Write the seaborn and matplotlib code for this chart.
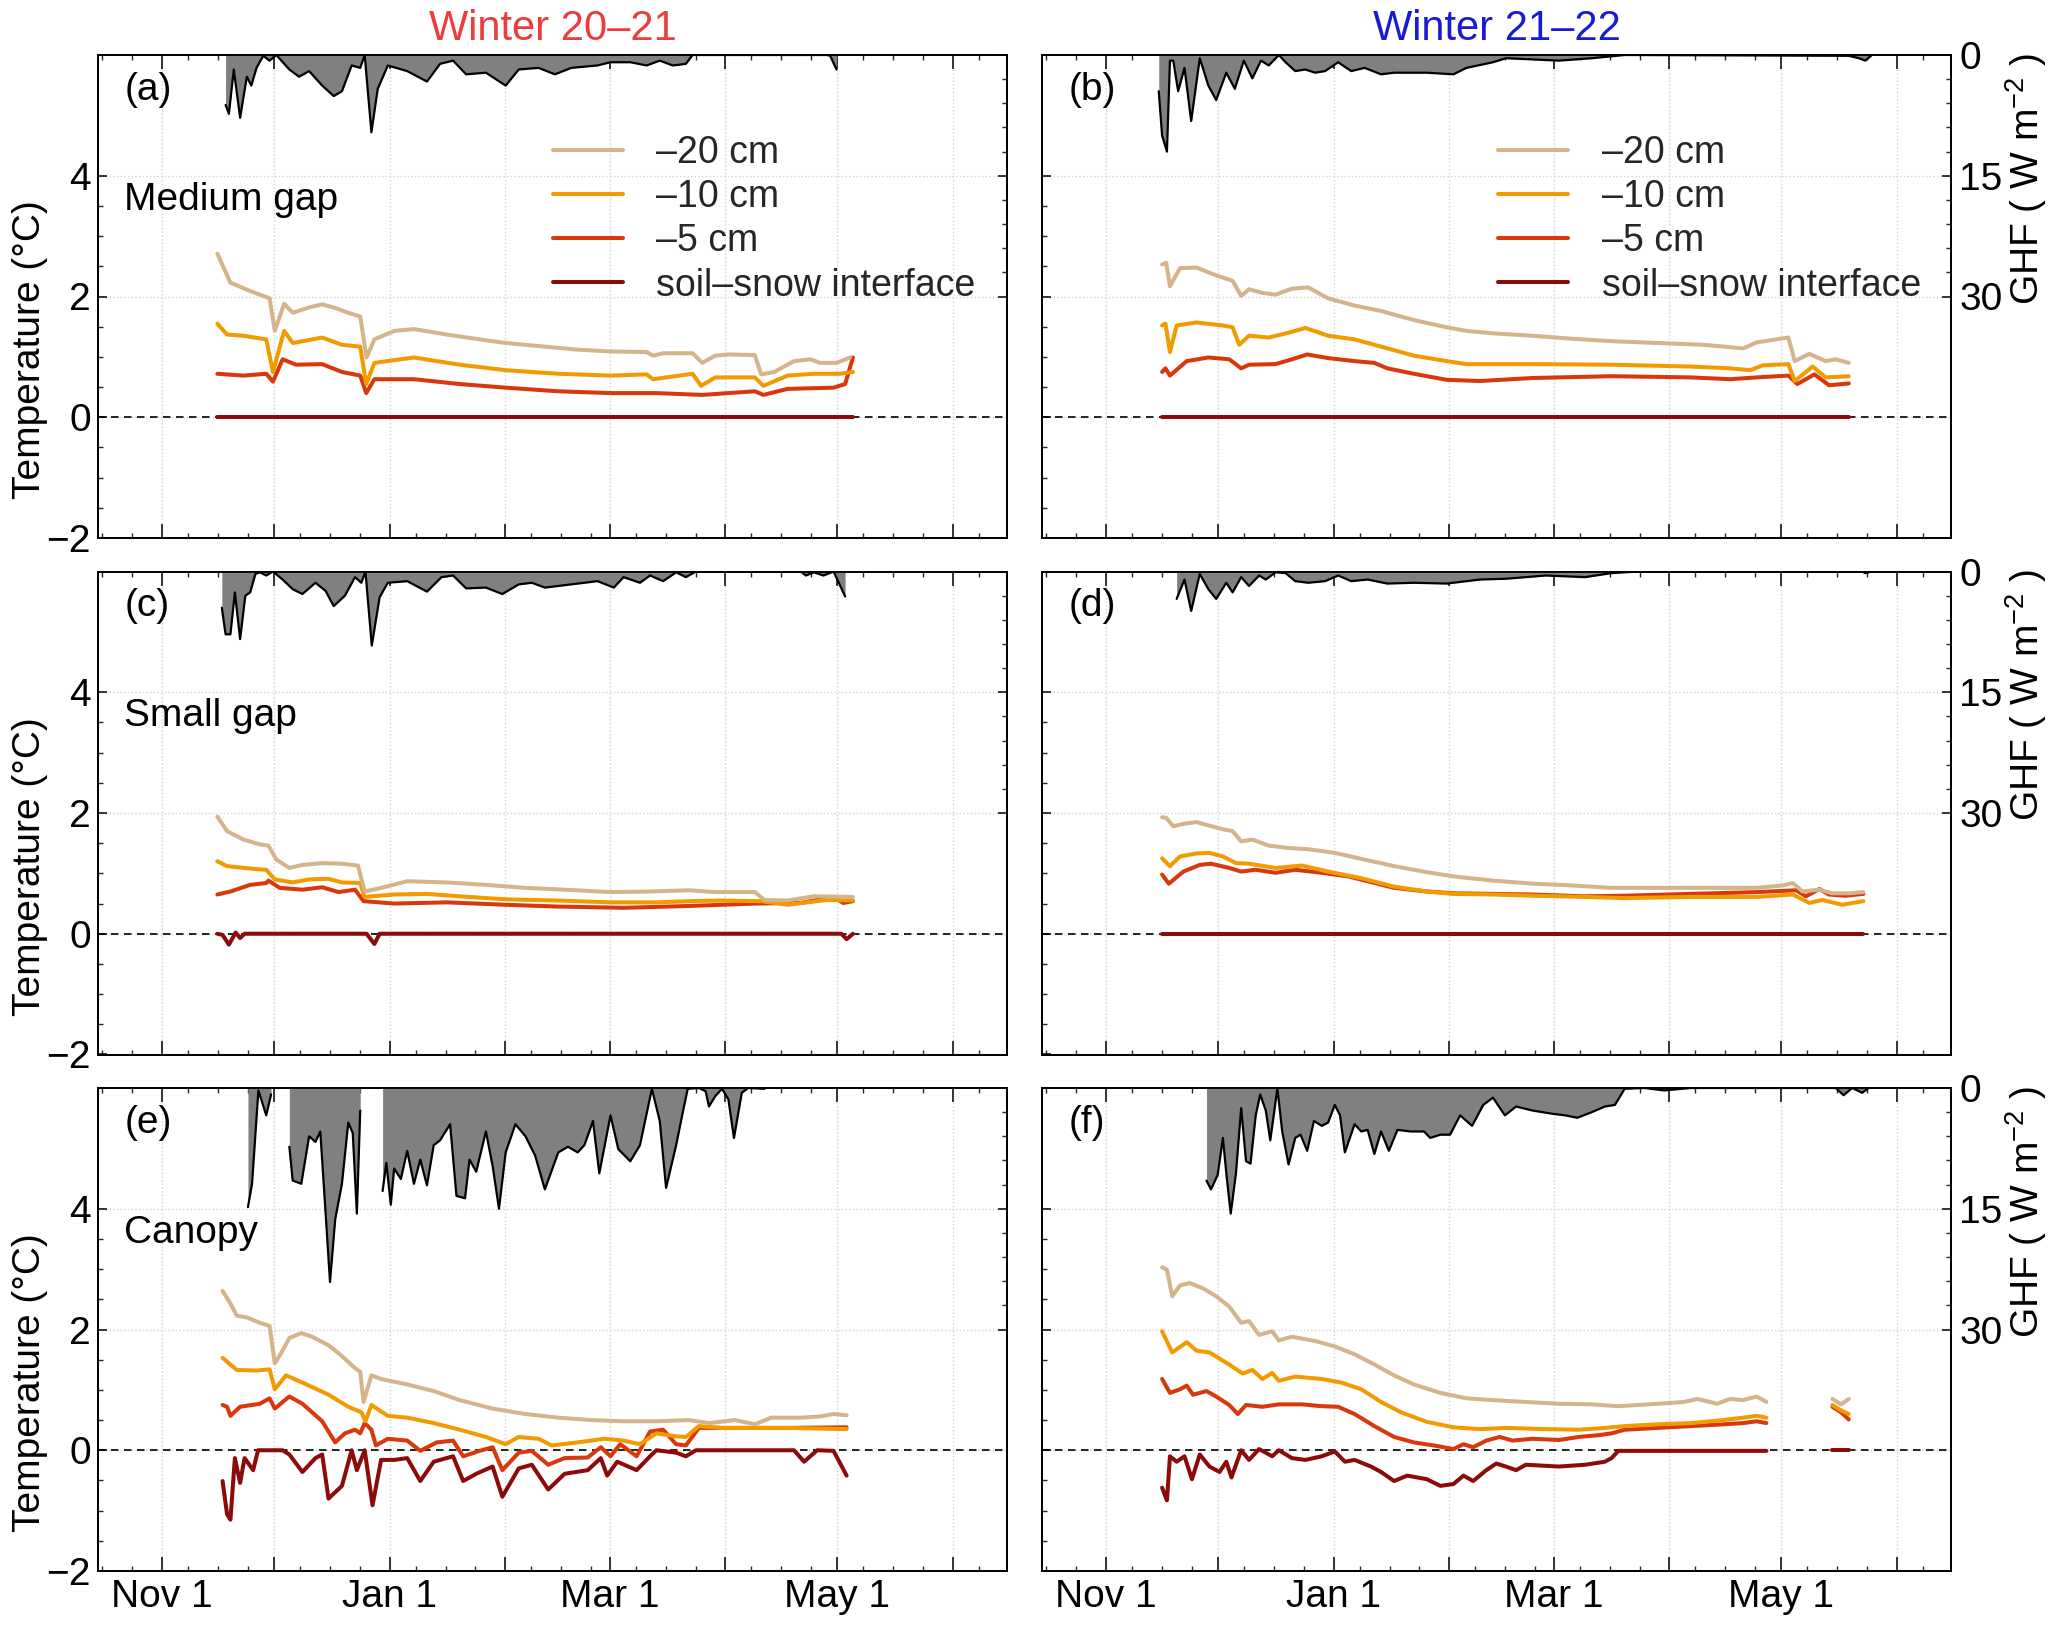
import numpy as np
import pandas as pd
import matplotlib
matplotlib.use("Agg")
import matplotlib.pyplot as plt
import matplotlib.dates as mdates
from matplotlib.lines import Line2D
from matplotlib.ticker import FixedLocator, FuncFormatter, NullFormatter
import seaborn as sns

nan = np.nan

# ---------------- labels / categories ----------------
depth_labels = ["\u201320 cm", "\u201310 cm", "\u20135 cm", "soil\u2013snow interface"]
site_labels = ["Medium gap", "Small gap", "Canopy"]
panel_letters = ["(a)", "(b)", "(c)", "(d)", "(e)", "(f)"]
winter_titles = ["Winter 20\u201321", "Winter 21\u201322"]
season_starts = ["2020-11-01", "2021-11-01"]
labeled_months = ["Nov 1", "Jan 1", "Mar 1", "May 1"]
temp_ticks = [-2, 0, 2, 4]
ghf_ticks = [0, 15, 30]

# ---------------- data: days since Nov 1, values ----------------
# (a) Medium gap, winter 20-21
a_t20_d = [14.8,18.3,23.6,28.8,30.2,32.7,35.0,39.4,42.9,46.4,49.9,53.1,54.8,56.9,62.2,67.5,76.3,85.1,92.1,102.6,111.4,120.2,129.9,131.6,134.3,142.2,144.8,148.3,151.8,158.9,160.6,164.1,169.4,173.8,176.4,180.8,184.4]
a_t20_v = [2.71,2.23,2.09,1.97,1.43,1.88,1.73,1.82,1.87,1.81,1.73,1.67,0.99,1.29,1.43,1.46,1.37,1.29,1.23,1.17,1.12,1.09,1.08,1.02,1.06,1.06,0.90,1.02,1.04,1.03,0.71,0.75,0.93,0.96,0.90,0.90,0.99]
a_t10_d = [14.8,17.4,21.8,27.9,29.7,32.7,35.0,42.9,48.2,53.1,54.7,56.9,67.5,79.8,92.1,106.2,120.2,129.9,131.6,142.2,144.5,148.3,158.9,161.2,167.7,174.7,181.7,185.2]
a_t10_v = [1.55,1.37,1.35,1.29,0.75,1.43,1.23,1.32,1.20,1.17,0.55,0.90,0.99,0.87,0.78,0.72,0.69,0.71,0.63,0.72,0.52,0.66,0.66,0.52,0.69,0.72,0.72,0.75]
a_t5_d = [14.8,21.8,27.9,29.7,32.3,35.9,42.9,48.2,53.1,54.7,56.9,67.5,79.8,92.1,106.2,120.2,132.5,144.8,158.9,161.2,167.7,180.0,183.1,185.2]
a_t5_v = [0.72,0.69,0.72,0.59,0.96,0.87,0.88,0.75,0.69,0.40,0.63,0.63,0.55,0.49,0.43,0.40,0.40,0.37,0.43,0.37,0.47,0.49,0.55,0.99]
a_int_d = [14.8,185.2]
a_int_v = [0.0,0.0]
a_ghf_d = [17.0,17.9,19.2,20.9,22.7,23.9,25.3,27.1,28.8,30.6,34.1,36.7,39.4,42.9,46.0,48.2,50.8,53.1,54.3,56.1,57.8,60.5,65.7,71.0,74.5,78.0,81.5,86.8,92.1,95.6,100.9,105.3,109.7,116.7,120.2,125.5,129.9,133.4,136.9,140.4,142.2,178.2,179.1,180.8]
a_ghf_v = [6.2,7.3,1.8,7.8,2.7,3.8,1.6,0.1,0.7,0.0,1.8,2.7,2.0,3.8,5.1,4.5,1.3,1.6,0.0,9.6,4.2,1.3,2.0,3.3,1.1,0.7,2.4,2.2,3.8,1.8,1.6,2.4,1.6,1.3,0.9,0.9,1.3,0.7,1.3,1.1,0.0,0.0,0.1,1.8]

# (b) Medium gap, winter 21-22
b_t20_d = [15.0,16.1,17.1,19.8,24.2,29.5,33.9,36.2,38.3,41.9,45.4,49.8,54.2,59.5,66.6,73.7,82.5,91.3,96.6,103.7,114.3,124.9,135.5,147.9,160.2,167.3,170.8,174.4,179.7,182.9,184.6,188.5,192.9,195.6,199.1]
b_t20_v = [2.53,2.56,2.17,2.47,2.48,2.35,2.26,2.01,2.12,2.06,2.03,2.13,2.15,1.97,1.85,1.76,1.61,1.49,1.43,1.39,1.35,1.30,1.26,1.23,1.20,1.16,1.14,1.24,1.29,1.32,0.93,1.05,0.93,0.96,0.90]
b_t10_d = [15.0,15.9,17.1,18.9,24.2,31.3,33.9,35.7,38.3,43.6,48.9,53.4,59.5,66.6,73.7,82.5,91.3,96.6,114.3,135.5,156.7,167.3,172.6,176.1,182.9,184.6,189.4,192.9,199.1]
b_t10_v = [1.52,1.55,1.08,1.52,1.57,1.52,1.49,1.20,1.35,1.32,1.40,1.48,1.35,1.29,1.17,1.02,0.93,0.88,0.88,0.87,0.84,0.81,0.78,0.86,0.88,0.60,0.84,0.66,0.68]
b_t5_d = [15.0,15.9,17.1,21.6,27.4,33.0,36.2,38.3,45.4,49.8,53.9,59.5,66.6,71.9,75.4,82.5,91.3,100.2,114.3,135.5,156.7,167.3,174.4,182.9,185.3,189.9,193.8,199.1]
b_t5_v = [0.75,0.81,0.69,0.93,0.99,0.96,0.81,0.87,0.88,0.96,1.04,0.98,0.93,0.90,0.81,0.72,0.62,0.60,0.65,0.68,0.66,0.63,0.66,0.69,0.55,0.71,0.53,0.56]
b_int_d = [15.0,199.1]
b_int_v = [0.0,0.0]
b_ghf_d = [14.1,15.0,16.3,17.1,18.0,19.3,21.0,22.8,25.1,27.4,29.5,32.2,34.5,36.9,39.2,41.5,43.6,46.3,48.1,50.7,53.4,56.0,58.7,62.2,65.7,69.3,73.7,77.2,86.0,93.1,96.6,103.7,107.2,121.4,130.2,139.0,199.1,201.8,203.5,205.3]
b_ghf_v = [4.5,10.0,12.0,0.7,0.7,4.5,1.6,8.2,0.4,3.8,5.6,2.2,4.2,0.7,2.9,0.7,1.3,0.0,0.9,2.0,1.8,2.2,2.0,0.9,2.0,1.6,2.4,2.2,2.2,2.4,1.6,0.9,0.4,0.7,0.4,0.0,0.1,0.4,0.7,0.0]

# (c) Small gap, winter 20-21
c_t20_d = [14.8,17.4,21.8,26.2,28.5,30.6,34.1,37.6,42.9,48.2,52.5,54.3,58.7,65.7,76.3,86.8,97.4,107.9,120.2,130.8,141.3,148.3,158.9,161.5,167.7,174.7,185.2]
c_t20_v = [1.94,1.70,1.56,1.48,1.46,1.23,1.09,1.14,1.17,1.16,1.13,0.70,0.76,0.87,0.85,0.81,0.76,0.73,0.69,0.70,0.72,0.69,0.69,0.56,0.55,0.62,0.61]
c_t10_d = [14.8,17.4,25.3,27.9,30.2,35.0,39.4,44.6,48.2,53.1,54.3,62.2,71.0,79.8,92.1,106.2,120.2,132.5,141.3,150.1,160.6,167.7,178.2,185.2]
c_t10_v = [1.20,1.12,1.07,1.06,0.90,0.85,0.90,0.91,0.85,0.84,0.61,0.65,0.66,0.62,0.57,0.55,0.52,0.52,0.54,0.55,0.54,0.48,0.56,0.55]
c_t5_d = [14.8,18.3,23.6,27.9,28.5,31.5,37.6,42.9,47.3,51.7,54.0,62.2,76.3,92.1,106.2,123.7,141.3,158.9,171.2,180.0,182.6,185.2]
c_t5_v = [0.65,0.70,0.81,0.84,0.88,0.76,0.73,0.77,0.69,0.73,0.54,0.50,0.52,0.48,0.45,0.43,0.46,0.50,0.51,0.61,0.51,0.54]
c_int_d = [14.8,16.2,17.9,19.7,20.9,22.1,54.8,56.9,58.3,182.1,183.5,185.2]
c_int_v = [0.0,-0.02,-0.18,0.02,-0.07,0.0,0.0,-0.17,0.0,0.0,-0.09,0.0]
c_ghf_d = [16.0,17.0,18.3,19.5,20.9,22.3,23.6,25.0,26.2,27.9,29.7,32.3,35.0,37.6,41.1,43.8,46.0,49.0,51.7,53.4,54.5,56.2,58.3,60.5,65.7,71.0,74.9,78.0,81.5,86.8,91.2,95.6,99.1,102.6,109.7,116.7,121.1,123.7,128.1,130.8,134.3,137.8,140.4,143.1,171.2,172.6,174.7,177.3,180.0,183.1]
c_ghf_v = [4.5,7.8,7.8,2.6,8.4,3.0,2.6,0.3,0.1,0.5,0.0,1.0,2.2,2.8,1.4,2.4,4.3,3.0,0.7,1.4,0.0,9.2,3.2,1.4,1.2,2.5,0.7,0.5,2.1,2.0,2.8,1.6,1.4,2.0,1.6,1.2,2.0,0.7,1.4,0.5,1.2,0.1,0.7,0.0,0.0,0.5,0.1,0.5,0.0,3.1]

# (d) Small gap, winter 21-22
d_t20_d = [15.0,16.1,18.0,20.7,24.2,27.7,31.3,33.9,36.2,39.2,43.6,48.9,54.2,61.3,68.4,77.2,86.0,93.1,103.7,114.3,124.9,135.5,149.6,160.2,174.4,181.4,184.1,186.7,191.2,194.7,199.1,203.0]
d_t20_v = [1.93,1.92,1.78,1.82,1.85,1.79,1.73,1.70,1.53,1.56,1.46,1.42,1.40,1.34,1.24,1.12,1.02,0.95,0.88,0.83,0.80,0.76,0.76,0.76,0.76,0.80,0.84,0.70,0.73,0.67,0.67,0.69]
d_t10_d = [15.0,17.1,19.8,24.2,27.7,31.3,34.8,38.3,45.4,52.5,59.5,68.4,77.2,86.0,93.1,103.7,114.3,128.4,139.0,156.7,174.4,184.1,188.5,192.0,197.3,203.0]
d_t10_v = [1.25,1.12,1.28,1.33,1.34,1.28,1.17,1.16,1.09,1.13,1.03,0.92,0.78,0.70,0.66,0.65,0.63,0.61,0.59,0.61,0.61,0.65,0.51,0.56,0.48,0.54]
d_t5_d = [15.0,16.8,20.7,25.1,28.1,33.0,36.2,40.1,45.4,50.7,57.8,64.9,70.1,77.2,86.0,93.1,103.7,114.3,128.4,139.0,156.7,174.4,185.0,187.6,191.2,193.8,198.2,203.0]
d_t5_v = [0.98,0.83,1.03,1.14,1.16,1.09,1.03,1.06,1.01,1.06,1.01,0.95,0.87,0.76,0.70,0.67,0.66,0.65,0.62,0.63,0.66,0.69,0.72,0.62,0.74,0.65,0.63,0.66]
d_int_d = [15.0,203.0]
d_int_v = [0.0,0.0]
d_ghf_d = [18.9,21.0,22.8,25.1,27.4,29.5,32.2,33.9,36.2,38.3,41.0,42.8,45.4,48.1,50.7,54.2,58.7,62.2,65.7,70.1,75.4,82.5,91.3,100.2,107.2,117.8,128.4,135.5,142.6,202.7,203.5,205.3]
d_ghf_v = [3.4,1.0,4.9,0.3,2.2,3.4,1.4,2.6,0.7,1.8,0.5,1.0,0.1,0.2,1.2,1.4,1.2,0.5,1.2,1.0,1.5,1.4,1.5,1.0,0.9,0.5,0.7,0.2,0.0,0.0,0.2,0.0]

# (e) Canopy, winter 20-21
e_t20_d = [16.2,18.3,20.0,22.7,26.2,28.8,30.2,32.0,34.1,37.3,40.2,44.6,48.2,51.7,53.1,54.0,56.1,58.7,65.7,72.8,79.8,88.6,97.4,106.2,114.9,123.7,132.5,141.3,146.6,153.6,158.9,163.3,171.2,176.4,180.0,183.5]
e_t20_v = [2.64,2.43,2.23,2.20,2.11,2.06,1.44,1.62,1.86,1.94,1.88,1.74,1.56,1.36,1.30,0.80,1.24,1.18,1.09,0.98,0.83,0.69,0.60,0.54,0.50,0.48,0.48,0.50,0.45,0.50,0.43,0.54,0.54,0.56,0.60,0.58]
e_t10_d = [16.2,20.0,25.3,28.8,30.2,33.2,37.6,44.6,49.9,53.4,54.5,56.1,60.5,65.7,72.8,79.8,86.8,92.1,95.6,100.9,104.4,111.4,118.5,123.7,128.1,132.5,137.8,140.4,143.9,150.1,167.7,183.5]
e_t10_v = [1.53,1.33,1.32,1.34,1.01,1.24,1.12,0.92,0.72,0.63,0.48,0.75,0.57,0.54,0.45,0.34,0.22,0.10,0.22,0.19,0.08,0.13,0.19,0.16,0.10,0.28,0.23,0.22,0.40,0.37,0.37,0.35]
e_t5_d = [16.2,17.4,18.3,20.9,26.2,28.8,30.2,34.1,37.6,42.9,46.4,49.0,51.7,53.1,54.3,56.1,57.3,60.5,65.7,69.2,73.6,78.0,80.7,85.1,88.6,91.2,95.6,99.1,103.5,107.9,114.1,117.6,120.2,122.8,127.2,130.8,134.3,137.8,140.4,143.9,150.1,167.7,183.5]
e_t5_v = [0.75,0.72,0.57,0.72,0.77,0.86,0.69,0.89,0.77,0.48,0.13,0.28,0.34,0.28,0.45,0.34,0.08,0.19,0.16,-0.01,0.13,0.16,-0.10,-0.01,0.05,-0.33,-0.04,-0.01,-0.24,-0.13,-0.12,0.05,-0.10,0.10,-0.10,0.31,0.34,0.10,0.08,0.37,0.37,0.37,0.38]
e_int_d = [16.2,17.4,18.3,19.5,20.9,22.1,24.4,25.7,32.3,34.1,37.6,41.1,42.9,44.6,48.2,50.8,52.2,54.3,56.4,58.7,62.2,65.7,69.2,72.8,78.0,80.7,84.2,88.6,91.2,95.6,99.1,103.5,107.9,114.1,117.6,119.3,122.0,127.2,130.8,132.5,137.8,140.4,143.1,169.4,172.1,175.6,180.0,183.5]
e_int_v = [-0.51,-1.06,-1.15,-0.13,-0.54,-0.13,-0.33,0.0,0.0,-0.07,-0.36,-0.13,-0.07,-0.80,-0.59,0.0,-0.33,0.0,-0.91,-0.16,-0.16,-0.13,-0.51,-0.19,-0.10,-0.51,-0.39,-0.27,-0.77,-0.30,-0.24,-0.65,-0.39,-0.33,-0.13,-0.42,-0.19,-0.33,-0.10,0.0,-0.04,-0.10,0.0,0.0,-0.19,0.0,-0.01,-0.42]
e_ghf_d = [23.0,24.1,25.8,27.9,29.2,31.0,34.1,35.0,37.3,39.4,41.1,42.4,43.8,45.0,46.4,48.2,49.9,51.1,52.2,53.1,56.0,59.1,60.1,61.3,62.2,64.0,65.7,67.5,69.2,71.0,72.8,74.5,77.2,78.9,81.2,82.4,84.2,86.8,88.6,90.3,92.1,94.7,97.4,100.0,102.6,106.2,108.8,111.4,113.2,115.5,117.2,120.2,122.3,125.5,128.1,131.3,133.4,135.1,137.8,139.5,140.9,143.9,145.7,146.6,148.3,150.1,151.8,153.3,155.4,157.1,161.5]
e_ghf_v = [14.8,11.9,0.3,3.4,0.8,nan,7.3,11.5,11.9,6.0,6.7,5.4,15.4,24.1,16.3,11.9,4.3,5.6,15.6,2.8,nan,12.8,9.3,14.5,10.0,11.3,7.8,11.9,8.9,12.1,7.1,6.5,4.5,13.4,13.7,8.9,10.4,5.4,9.7,15.0,8.0,4.5,6.0,8.4,12.6,8.0,7.3,8.0,7.1,4.1,10.6,3.4,7.6,9.1,7.1,0.1,4.1,12.4,7.1,3.2,0.1,0.0,0.4,2.3,1.0,0.1,1.4,6.2,0.6,0.0,0.1]

# (f) Canopy, winter 21-22
f_t20_d = [15.0,16.3,17.7,19.8,22.4,26.0,29.5,33.0,36.2,38.3,41.0,44.5,46.3,49.8,56.0,61.3,66.6,71.9,77.2,82.5,89.6,96.6,103.7,112.5,121.4,130.2,137.3,147.9,154.9,158.5,163.8,167.3,170.8,174.4,177.0,186.0,194.7,197.0,199.1]
f_t20_v = [3.03,2.99,2.55,2.73,2.77,2.68,2.55,2.38,2.11,2.14,1.91,1.97,1.82,1.88,1.81,1.72,1.59,1.42,1.24,1.09,0.95,0.86,0.83,0.80,0.77,0.76,0.73,0.77,0.80,0.85,0.77,0.85,0.83,0.89,0.80,nan,0.85,0.76,0.85]
f_t10_d = [15.0,17.7,21.6,24.2,27.7,33.0,36.6,39.2,41.9,44.5,46.3,50.7,57.8,63.1,68.4,73.7,79.0,86.0,93.1,100.2,107.2,117.8,126.7,133.7,139.0,147.9,156.7,165.5,170.8,174.4,177.0,186.0,194.7,197.0,199.1]
f_t10_v = [1.97,1.62,1.79,1.65,1.62,1.42,1.27,1.33,1.18,1.28,1.15,1.22,1.18,1.12,1.01,0.80,0.63,0.47,0.38,0.35,0.37,0.35,0.34,0.37,0.40,0.43,0.45,0.50,0.54,0.57,0.54,nan,0.75,0.66,0.60]
f_t5_d = [15.0,17.1,19.8,21.6,23.3,26.9,29.5,33.0,35.3,37.5,41.9,46.3,52.5,57.8,62.2,66.6,71.9,77.2,82.5,87.8,93.1,95.8,98.4,101.9,105.5,109.0,114.3,121.4,126.7,132.0,135.5,139.0,147.9,156.7,165.5,170.8,174.4,177.0,186.0,194.7,197.0,199.1]
f_t5_v = [1.18,0.95,1.01,1.07,0.92,0.98,0.89,0.75,0.60,0.75,0.72,0.76,0.76,0.73,0.72,0.60,0.40,0.22,0.13,0.08,0.02,0.10,0.05,0.16,0.22,0.16,0.19,0.17,0.22,0.25,0.28,0.34,0.37,0.40,0.43,0.45,0.48,0.45,nan,0.72,0.63,0.51]
f_int_d = [15.0,16.3,17.1,18.9,21.0,23.0,25.1,27.7,30.4,32.2,33.6,36.2,38.3,41.0,44.5,46.3,49.8,53.4,57.8,61.3,64.0,66.6,71.0,73.7,77.2,80.7,86.0,89.6,93.1,95.8,98.4,101.9,104.6,107.2,109.9,112.5,121.4,128.4,133.7,135.5,137.3,177.0,186.0,194.7,199.1]
f_int_v = [-0.62,-0.83,-0.10,-0.19,-0.10,-0.48,-0.07,-0.27,-0.36,-0.19,-0.45,0.0,-0.16,0.02,-0.10,0.0,-0.13,-0.16,-0.10,-0.02,-0.19,-0.16,-0.27,-0.36,-0.51,-0.42,-0.48,-0.59,-0.56,-0.42,-0.51,-0.33,-0.22,-0.27,-0.33,-0.24,-0.27,-0.24,-0.19,-0.13,-0.01,-0.01,nan,0.0,0.0]
f_ghf_d = [26.9,28.1,29.9,31.3,32.3,33.4,34.8,36.2,37.5,38.7,40.1,41.3,42.8,44.0,45.1,45.9,47.2,48.9,50.7,52.1,53.9,55.7,57.8,59.5,61.3,62.7,64.0,66.6,68.4,70.1,71.9,73.7,75.8,78.1,81.6,85.2,86.9,89.6,92.2,94.9,98.1,101.1,103.7,106.9,109.9,114.3,119.6,123.1,126.3,130.2,133.7,136.4,139.0,144.3,149.6,156.7,177.0,195.6,197.7,200.0,202.7,204.4]
f_ghf_v = [11.5,12.6,10.8,6.2,11.0,15.6,10.6,2.5,9.1,9.4,3.4,0.8,2.8,6.5,2.8,0.0,5.4,9.5,6.2,5.8,7.8,4.1,4.7,4.3,2.1,3.4,8.0,4.5,5.4,5.2,8.2,5.4,7.8,5.2,5.4,5.4,6.2,5.8,5.8,3.4,4.7,2.1,1.2,3.4,2.3,2.8,3.2,3.4,3.7,3.0,2.3,2.1,0.1,0.0,0.3,0.0,0.0,0.0,0.9,0.0,0.6,0.0]

# ---------------- styling ----------------
sns.set_theme(style="white")
plt.rcParams["font.family"] = ["Liberation Sans", "DejaVu Sans"]
plt.rcParams["mathtext.fontset"] = "custom"
plt.rcParams["mathtext.rm"] = "Liberation Sans"
plt.rcParams["mathtext.it"] = "Liberation Sans:italic"
plt.rcParams["mathtext.default"] = "regular"
plt.rcParams["axes.unicode_minus"] = True

depth_colors = ["#D5B48C", "#F29B00", "#D9380C", "#8B0A0A"]
title_colors = ["#EE3B3B", "#1A1AD6"]
TICK_FS = 28
TEXT_FS = 28
LAB_FS = 28
LEG_FS = 27
T_LW = 2.9

panels = [
    dict(letter=0, col=0, row=0, t=[(a_t20_d, a_t20_v), (a_t10_d, a_t10_v), (a_t5_d, a_t5_v), (a_int_d, a_int_v)], g=(a_ghf_d, a_ghf_v)),
    dict(letter=1, col=1, row=0, t=[(b_t20_d, b_t20_v), (b_t10_d, b_t10_v), (b_t5_d, b_t5_v), (b_int_d, b_int_v)], g=(b_ghf_d, b_ghf_v)),
    dict(letter=2, col=0, row=1, t=[(c_t20_d, c_t20_v), (c_t10_d, c_t10_v), (c_t5_d, c_t5_v), (c_int_d, c_int_v)], g=(c_ghf_d, c_ghf_v)),
    dict(letter=3, col=1, row=1, t=[(d_t20_d, d_t20_v), (d_t10_d, d_t10_v), (d_t5_d, d_t5_v), (d_int_d, d_int_v)], g=(d_ghf_d, d_ghf_v)),
    dict(letter=4, col=0, row=2, t=[(e_t20_d, e_t20_v), (e_t10_d, e_t10_v), (e_t5_d, e_t5_v), (e_int_d, e_int_v)], g=(e_ghf_d, e_ghf_v)),
    dict(letter=5, col=1, row=2, t=[(f_t20_d, f_t20_v), (f_t10_d, f_t10_v), (f_t5_d, f_t5_v), (f_int_d, f_int_v)], g=(f_ghf_d, f_ghf_v)),
]

W, H = 2067, 1629
col_left = [98 / W, 1042 / W]
ax_w = 909 / W
row_bottom = [1 - 538 / H, 1 - 1054.5 / H, 1 - 1571 / H]
ax_h = 483 / H


def to_dates(start, days):
    return pd.Timestamp(start) + pd.to_timedelta(np.asarray(days, float), unit="D")


def segments(days, vals):
    d = np.asarray(days, float)
    v = np.asarray(vals, float)
    out, cur = [], []
    for i in range(len(v)):
        if np.isnan(v[i]):
            if cur:
                out.append(cur)
            cur = []
        else:
            cur.append(i)
    if cur:
        out.append(cur)
    return [(d[idx], v[idx]) for idx in out]


def month_fmt(x, pos):
    dt = mdates.num2date(x)
    s = dt.strftime("%b") + " 1"
    return s if (s in labeled_months and dt.day == 1) else ""


fig = plt.figure(figsize=(W / 100, H / 100), dpi=100)

for p in panels:
    col, row = p["col"], p["row"]
    start = season_starts[col]
    ax = fig.add_axes([col_left[col], row_bottom[row], ax_w, ax_h])
    ax2 = ax.twinx()

    # zero dashed line
    ax.axhline(0, color="black", lw=1.2, dashes=(4.5, 3.3), zorder=1)

    # temperatures
    for k, (dd, vv) in enumerate(p["t"]):
        for sd, sv in segments(dd, vv):
            sns.lineplot(x=to_dates(start, sd), y=sv, ax=ax, color=depth_colors[k],
                         linewidth=T_LW, estimator=None, sort=False, legend=False,
                         solid_capstyle="round", zorder=3 + (3 - k))

    # GHF
    gd, gv = p["g"]
    for sd, sv in segments(gd, gv):
        dts = to_dates(start, sd)
        ax2.fill_between(dts, 0, sv, color="#808080", lw=0, zorder=2)
        sns.lineplot(x=dts, y=sv, ax=ax2, color="black", linewidth=1.6,
                     estimator=None, sort=False, legend=False, zorder=3)

    # axes limits
    ax.set_xlim(pd.Timestamp(start) - pd.Timedelta(days=17.2), pd.Timestamp(start) + pd.Timedelta(days=226.5))
    ax.set_ylim(-2, 6)
    ax2.set_ylim(60, 0)

    # x ticks
    ax.xaxis.set_major_locator(mdates.MonthLocator(bymonthday=1))
    ax.xaxis.set_minor_locator(mdates.DayLocator(bymonthday=[8, 16, 24]))
    if row == 2:
        ax.xaxis.set_major_formatter(FuncFormatter(month_fmt))
    else:
        ax.xaxis.set_major_formatter(NullFormatter())
    ax.xaxis.set_minor_formatter(NullFormatter())

    # y ticks (temperature)
    ax.yaxis.set_major_locator(FixedLocator(temp_ticks))
    ax.yaxis.set_minor_locator(FixedLocator([-1.5, -1, -0.5, 0.5, 1, 1.5, 2.5, 3, 3.5]))
    if col == 1:
        ax.yaxis.set_major_formatter(NullFormatter())

    # y ticks (GHF)
    ax2.yaxis.set_major_locator(FixedLocator(ghf_ticks))
    ax2.yaxis.set_minor_locator(FixedLocator([3, 6, 9, 12, 18, 21, 24, 27]))
    ax2.yaxis.set_minor_formatter(NullFormatter())
    if col == 0:
        ax2.yaxis.set_major_formatter(NullFormatter())

    ax.tick_params(axis="x", which="major", direction="in", length=10, width=1.1,
                   top=True, bottom=True, labelsize=TICK_FS, pad=6, colors="black")
    ax.tick_params(axis="x", which="minor", direction="in", length=3.6, width=1.0,
                   top=True, bottom=True)
    ax.tick_params(axis="y", which="major", direction="in", length=6.5, width=1.1,
                   left=True, right=False, labelsize=TICK_FS, pad=5, colors="black")
    ax.tick_params(axis="y", which="minor", direction="in", length=3.6, width=1.0,
                   left=True, right=False)
    ax2.tick_params(axis="y", which="major", direction="in", length=6.5, width=1.1,
                    right=True, left=False, labelsize=TICK_FS, pad=6, colors="black")
    ax2.tick_params(axis="y", which="minor", direction="in", length=3.6, width=1.0,
                    right=True, left=False)

    ax.grid(True, which="major", color="#d4d4d4", ls=":", lw=1.0)
    ax2.grid(False)
    ax.set_xlabel("")
    ax.set_ylabel("")
    ax2.set_xlabel("")
    ax2.set_ylabel("")
    for a in (ax, ax2):
        for s in a.spines.values():
            s.set_color("black")
            s.set_linewidth(1.3)

    # panel letter and site
    ax.text(0.029, 0.928, panel_letters[p["letter"]], transform=ax.transAxes,
            fontsize=TEXT_FS, ha="left", va="center", color="black")
    if col == 0:
        ax.text(0.029, 0.70, site_labels[row], transform=ax.transAxes,
                fontsize=TEXT_FS, ha="left", va="center", color="black")
        ax.text(-0.075, 0.39, "Temperature (\u00b0C)", transform=ax.transAxes,
                rotation=90, fontsize=LAB_FS, ha="center", va="center", color="black")
    else:
        ax2.text(1.083, 0.744, "GHF ( W m$^{-2}$ )", transform=ax2.transAxes,
                 rotation=90, fontsize=LAB_FS, ha="center", va="center", color="black")

    # legend on top row
    if row == 0:
        handles = [Line2D([], [], color=c, lw=T_LW, solid_capstyle="round") for c in depth_colors]
        ax.legend(handles, depth_labels, loc="center left",
                  bbox_to_anchor=(0.500 if col == 0 else 0.502, 0.660),
                  frameon=False, fontsize=LEG_FS, handlelength=1.87,
                  handletextpad=0.9, labelspacing=0.22, borderaxespad=0, borderpad=0)

# column titles
for c in range(2):
    fig.text(col_left[c] + ax_w / 2, 1 - 29 / H, winter_titles[c], color=title_colors[c],
             fontsize=30, ha="center", va="center")

fig.savefig("out.png", dpi=100)
